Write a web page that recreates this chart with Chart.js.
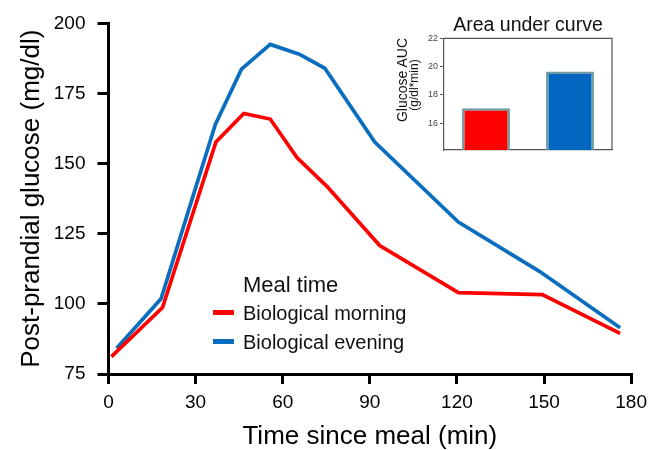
<!DOCTYPE html>
<html>
<head>
<meta charset="utf-8">
<script src="https://cdn.jsdelivr.net/npm/chart.js@4"></script>
<style>
  html, body { margin: 0; padding: 0; background: #fff; }
  #wrap { position: relative; width: 654px; height: 450px; overflow: hidden; font-family: "Liberation Sans", Arial, sans-serif; }
  #main { position: absolute; left: 0; top: 0; }
  #inset { position: absolute; left: 380px; top: 10px; }
  .lg { position: absolute; white-space: nowrap; color: #111; }
  .sw { position: absolute; width: 21px; height: 5px; }
  .rot { position: absolute; white-space: nowrap; transform: translate(-50%, -50%) rotate(-90deg); color: #111; }
</style>
</head>
<body>
<div id="wrap">
  <canvas id="main" width="654" height="450"></canvas>
  <canvas id="inset" width="240" height="150"></canvas>
  <div class="lg" id="lgTitle" style="left:243px; top:273px; font-size:22px; line-height:24px;"></div>
  <div class="sw" id="sw0" style="left:213px; top:310px;"></div>
  <div class="lg" id="lg0" style="left:243px; top:302px; font-size:20px; line-height:22px;"></div>
  <div class="sw" id="sw1" style="left:213px; top:339px;"></div>
  <div class="lg" id="lg1" style="left:243px; top:331px; font-size:20px; line-height:22px;"></div>
  <div class="rot" id="insetY1" style="left:402px; top:80px; font-size:14px;"></div>
  <div class="rot" id="insetY2" style="left:414px; top:85px; font-size:12px;"></div>
</div>
<script>
// ---- data ----
const seriesNames = ["Biological morning", "Biological evening"];
const legendTitle = "Meal time";
const timesMorning = [1, 18.6, 37, 46.6, 55.7, 64.9, 75.3, 93.4, 120.5, 149.4, 176.2];
const glucoseMorning = [81.2, 98.7, 157.7, 167.9, 165.9, 152.2, 141.8, 120.8, 104, 103.3, 89.5];
const timesEvening = [2.8, 18.1, 36.8, 45.8, 55.7, 65.7, 74.5, 91.7, 120.5, 148.4, 176.2];
const glucoseEvening = [84.2, 101.8, 164, 183.7, 192.5, 189, 184, 157.7, 129.2, 111.6, 91.5];
const xTicks = [0, 30, 60, 90, 120, 150, 180];
const yTicks = [75, 100, 125, 150, 175, 200];
const aucValues = [17.05, 19.65];
const aucTicks = [16, 18, 20, 22];
const colors = ["#ff0000", "#0a6ec0"];
const barColors = ["#ff0000", "#0066c0"];

const FONT = '"Liberation Sans", Arial, sans-serif';

// legend (HTML)
document.getElementById('lgTitle').textContent = legendTitle;
document.getElementById('lg0').textContent = seriesNames[0];
document.getElementById('lg1').textContent = seriesNames[1];
document.getElementById('sw0').style.background = colors[0];
document.getElementById('sw1').style.background = colors[1];
document.getElementById('insetY1').textContent = "Glucose AUC";
document.getElementById('insetY2').textContent = "(g/dl*min)";

const toPts = (xs, ys) => xs.map((x, i) => ({ x: x, y: ys[i] }));

new Chart(document.getElementById('main'), {
  type: 'line',
  data: {
    datasets: [
      { label: seriesNames[0], data: toPts(timesMorning, glucoseMorning), borderColor: colors[0], backgroundColor: colors[0], borderWidth: 3.7, pointRadius: 0, tension: 0, borderJoinStyle: 'miter' },
      { label: seriesNames[1], data: toPts(timesEvening, glucoseEvening), borderColor: colors[1], backgroundColor: colors[1], borderWidth: 3.7, pointRadius: 0, tension: 0, borderJoinStyle: 'miter' }
    ]
  },
  options: {
    responsive: false,
    devicePixelRatio: 1,
    animation: false,
    layout: { padding: { left: 0, right: 16, top: 22, bottom: 0 } },
    plugins: { legend: { display: false }, tooltip: { enabled: false } },
    scales: {
      x: {
        type: 'linear', min: xTicks[0], max: xTicks[xTicks.length - 1],
        afterBuildTicks: s => { s.ticks = xTicks.map(v => ({ value: v })); },
        afterFit: s => { s.height = 76; },
        grid: { display: true, drawOnChartArea: false, tickLength: 10, lineWidth: 3, color: '#000' },
        border: { display: true, color: '#000', width: 3 },
        ticks: { color: '#000', font: { family: FONT, size: 19 }, padding: 7, maxRotation: 0 },
        title: { display: true, text: 'Time since meal (min)', color: '#000', font: { family: FONT, size: 26, lineHeight: 1 }, padding: { top: 0, bottom: 0 } }
      },
      y: {
        type: 'linear', min: yTicks[0], max: yTicks[yTicks.length - 1],
        afterBuildTicks: s => { s.ticks = yTicks.map(v => ({ value: v })); },
        afterFit: s => { s.width = 108.5; },
        grid: { display: true, drawOnChartArea: false, tickLength: 11, lineWidth: 3, color: '#000' },
        border: { display: true, color: '#000', width: 3 },
        ticks: { color: '#000', font: { family: FONT, size: 19 }, padding: 12 },
        title: { display: true, text: 'Post-prandial glucose (mg/dl)', color: '#000', font: { family: FONT, size: 26, lineHeight: 1.2 }, padding: { top: 16, bottom: 0 } }
      }
    }
  }
});

const boxPlugin = {
  id: 'box',
  afterDraw(chart) {
    const a = chart.chartArea, ctx = chart.ctx;
    ctx.save();
    ctx.strokeStyle = '#555';
    ctx.lineWidth = 1.2;
    ctx.beginPath();
    ctx.moveTo(a.left, a.top);
    ctx.lineTo(a.right, a.top);
    ctx.lineTo(a.right, a.bottom);
    ctx.stroke();
    ctx.restore();
  }
};

new Chart(document.getElementById('inset'), {
  type: 'bar',
  data: {
    labels: seriesNames,
    datasets: [{ data: aucValues, backgroundColor: barColors, borderColor: '#6f9aa2', borderWidth: 2.5, borderSkipped: false, barPercentage: 0.57, categoryPercentage: 1 }]
  },
  options: {
    responsive: false,
    devicePixelRatio: 1,
    animation: false,
    layout: { padding: { left: 0, right: 8, top: 0, bottom: 0 } },
    plugins: {
      legend: { display: false }, tooltip: { enabled: false },
      title: { display: true, fullSize: false, text: 'Area under curve', color: '#111', font: { family: FONT, size: 19.5, weight: 'normal', lineHeight: 1.2 }, padding: { top: 4, bottom: 1 } }
    },
    scales: {
      x: {
        afterFit: s => { s.height = 10; },
        grid: { display: false },
        border: { display: true, color: '#555', width: 1.2 },
        ticks: { display: false }
      },
      y: {
        min: 14.1, max: aucTicks[aucTicks.length - 1],
        afterBuildTicks: s => { s.ticks = aucTicks.map(v => ({ value: v })); },
        afterFit: s => { s.width = 64; },
        grid: { display: true, drawOnChartArea: false, tickLength: 4, lineWidth: 1, color: '#555' },
        border: { display: true, color: '#555', width: 1.2 },
        ticks: { color: '#444', font: { family: FONT, size: 9 }, padding: 2 }
      }
    }
  },
  plugins: [boxPlugin]
});
</script>
</body>
</html>
